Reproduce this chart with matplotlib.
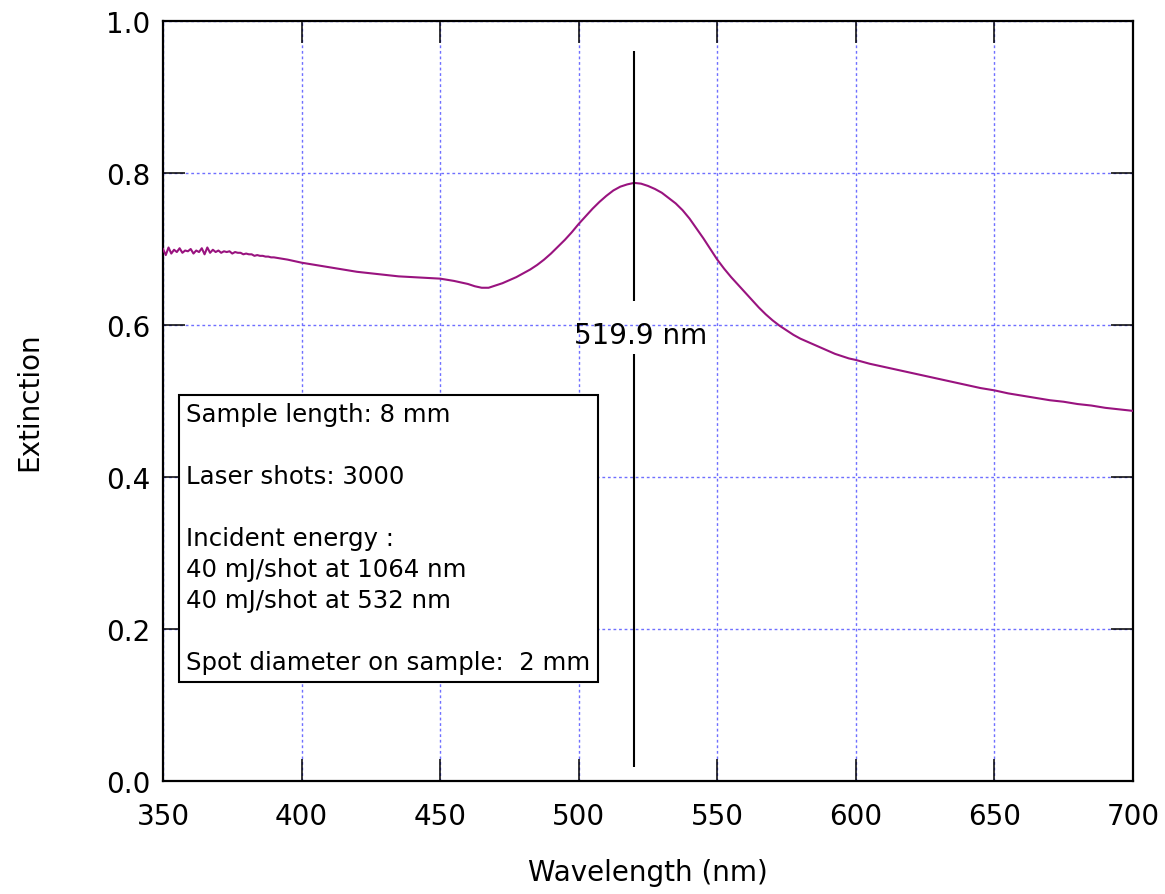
import matplotlib
matplotlib.use("Agg")
import matplotlib.pyplot as plt
import numpy as np

plt.rcParams['font.family'] = ['DejaVu Sans']

# noisy start of the spectrum, 1 nm steps
wl_noisy = list(range(350, 390))
ext_noisy = [0.700, 0.692, 0.702, 0.694, 0.699, 0.696, 0.701, 0.695, 0.698, 0.697,
             0.700, 0.694, 0.698, 0.696, 0.701, 0.693, 0.702, 0.695, 0.699, 0.696,
             0.698, 0.695, 0.697, 0.696, 0.697, 0.694, 0.696, 0.695, 0.695, 0.693,
             0.694, 0.693, 0.693, 0.691, 0.692, 0.691, 0.691, 0.690, 0.690, 0.689]

# 390-450 nm, 5 nm steps
wl_blue = list(range(390, 455, 5))
ext_blue = [0.689, 0.686, 0.682, 0.679, 0.676, 0.673, 0.670, 0.668, 0.666, 0.664,
            0.663, 0.662, 0.661]

# plasmon band 455-600 nm, 2.5 nm steps
wl_band = list(np.arange(455, 600.1, 2.5))
ext_band = [0.658, 0.656, 0.654, 0.651, 0.649, 0.649, 0.652, 0.655, 0.659, 0.663,
            0.668, 0.673, 0.679, 0.686, 0.694, 0.703, 0.712, 0.722, 0.733, 0.743,
            0.753, 0.762, 0.770, 0.777, 0.782, 0.785, 0.787, 0.786, 0.783, 0.779,
            0.774, 0.767, 0.760, 0.751, 0.740, 0.727, 0.714, 0.700, 0.686, 0.674,
            0.663, 0.653, 0.643, 0.633, 0.623, 0.614, 0.606, 0.599, 0.593, 0.587,
            0.582, 0.578, 0.574, 0.570, 0.566, 0.562, 0.559, 0.556, 0.554]

# red tail 605-700 nm, 5 nm steps
wl_red = list(range(605, 705, 5))
ext_red = [0.549, 0.545, 0.541, 0.537, 0.533, 0.529, 0.525, 0.521, 0.517, 0.514,
           0.510, 0.507, 0.504, 0.501, 0.499, 0.496, 0.494, 0.491, 0.489, 0.487]

wavelength = np.array(wl_noisy + wl_blue + wl_band + wl_red, dtype=float)
extinction = np.array(ext_noisy + ext_blue + ext_band + ext_red)

peak_nm = 519.9
peak_label = "519.9 nm"
info_lines = ["Sample length: 8 mm", "", "Laser shots: 3000", "",
              "Incident energy :", "40 mJ/shot at 1064 nm", "40 mJ/shot at 532 nm", "",
              "Spot diameter on sample:  2 mm"]

fig = plt.figure(figsize=(11.65, 8.95), dpi=100)
ax = fig.add_axes([0.1399, 0.1263, 0.8326, 0.8491])

ax.grid(True, color='#6f6fff', linestyle=(0, (2, 2)), linewidth=1.0)
ax.set_axisbelow(True)

ax.plot(wavelength, extinction, color='#99137f', lw=1.5, zorder=3)

# peak marker, broken around the label
ax.vlines(peak_nm, 0.018, 0.562, color='black', lw=1.5, zorder=4)
ax.vlines(peak_nm, 0.632, 0.96, color='black', lw=1.5, zorder=4)
ax.text(peak_nm + 2.5, 0.587, peak_label, ha='center', va='center', fontsize=20, zorder=5)

ax.text(0.0242, 0.4986, "\n".join(info_lines), transform=ax.transAxes,
        ha='left', va='top', fontsize=17.6, linespacing=1.37, zorder=6,
        bbox=dict(boxstyle='square,pad=0.3', facecolor='white', edgecolor='black', lw=1.5))

ax.set_xlim(350, 700)
ax.set_ylim(0, 1.0)
ax.set_xticks(np.arange(350, 701, 50))
ax.set_yticks(np.arange(0, 1.01, 0.2))
ax.yaxis.set_major_formatter(matplotlib.ticker.FormatStrFormatter('%.1f'))
ax.tick_params(direction='in', length=16, width=1.1, top=True, right=True,
               labelsize=20, pad=9)
ax.tick_params(axis='x', pad=15)
for s in ax.spines.values():
    s.set_linewidth(1.6)

ax.set_xlabel("Wavelength (nm)", fontsize=20, labelpad=20)
ax.set_ylabel("Extinction", fontsize=20, labelpad=45)

fig.savefig("out.png", dpi=100)
